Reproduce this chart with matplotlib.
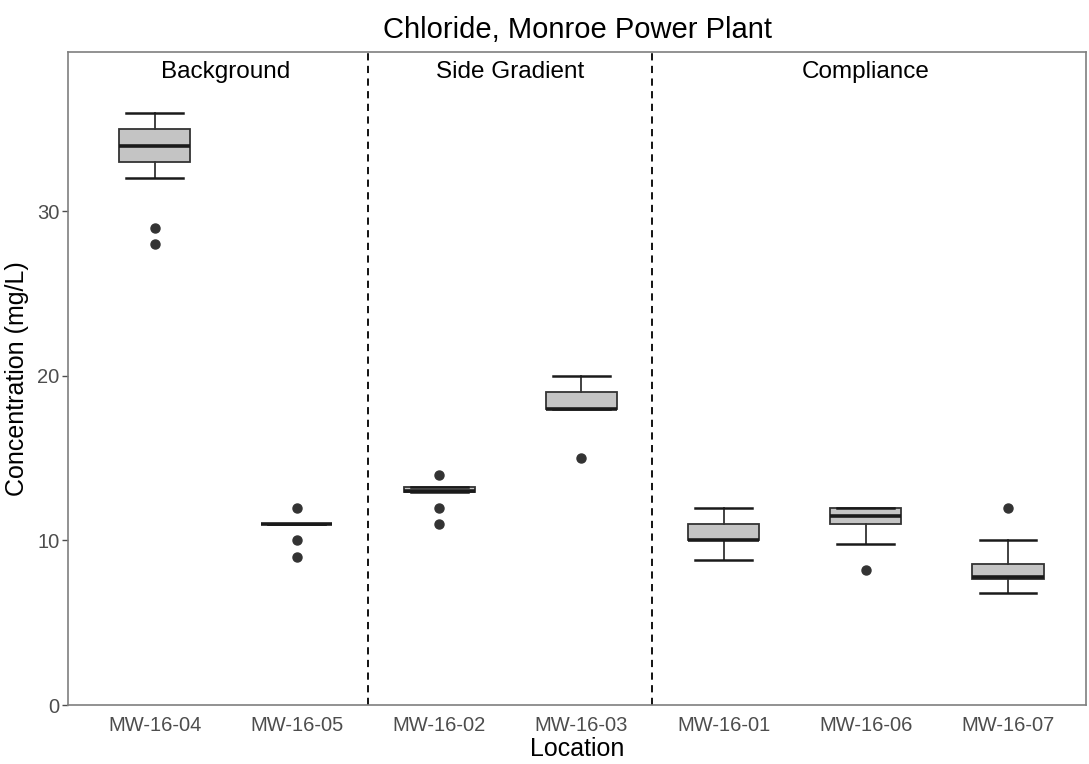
import matplotlib
matplotlib.use('Agg')
import matplotlib.pyplot as plt

plt.rcParams['font.family'] = ['Liberation Sans', 'DejaVu Sans']

# locations and box statistics (mg/L)
locations = ['MW-16-04', 'MW-16-05', 'MW-16-02', 'MW-16-03', 'MW-16-01', 'MW-16-06', 'MW-16-07']
whislo = [32.0, 11.0, 12.95, 18.0, 8.8, 9.8, 6.8]
q1 = [33.0, 11.0, 12.95, 18.0, 10.0, 11.0, 7.65]
med = [34.0, 11.0, 13.0, 18.0, 10.0, 11.5, 7.8]
q3 = [35.0, 11.0, 13.25, 19.0, 11.0, 12.0, 8.6]
whishi = [36.0, 11.0, 13.25, 20.0, 12.0, 12.0, 10.0]
fliers = [[29, 28], [12, 10, 9], [14, 12, 11], [15], [], [8.2], [12]]

groups = ['Background', 'Side Gradient', 'Compliance']
group_centers = [1.5, 3.5, 6.0]
dividers = [2.5, 4.5]

stats = []
for i, loc in enumerate(locations):
    stats.append({'label': loc, 'whislo': whislo[i], 'q1': q1[i], 'med': med[i],
                  'q3': q3[i], 'whishi': whishi[i], 'fliers': fliers[i]})

fig = plt.figure(figsize=(10.89, 7.64), dpi=100)
ax = fig.add_axes([0.0624, 0.0772, 0.935, 0.855])

ax.bxp(stats, positions=range(1, 8), widths=0.5, patch_artist=True,
       boxprops=dict(facecolor='#c4c4c4', edgecolor='#333333', linewidth=1.3),
       medianprops=dict(color='#1a1a1a', linewidth=2.6),
       whiskerprops=dict(color='#333333', linewidth=1.3),
       capprops=dict(color='#1a1a1a', linewidth=1.8),
       capwidths=0.4,
       flierprops=dict(marker='o', markerfacecolor='#333333', markeredgecolor='#333333', markersize=6.5))

for d in dividers:
    ax.axvline(d, color='black', linestyle=(0, (4, 3)), linewidth=1.3)

for g, c in zip(groups, group_centers):
    ax.text(c, 38.5, g, ha='center', va='center', fontsize=17.5, color='black')

ax.set_xlim(0.39, 7.55)
ax.set_ylim(0, 39.7)
ax.set_yticks([0, 10, 20, 30])
ax.set_xticks(range(1, 8))
ax.set_xticklabels(locations)
ax.tick_params(axis='both', colors='#4d4d4d', labelsize=14.5, length=4, width=1)
ax.tick_params(axis='y', pad=2)
ax.tick_params(axis='x', length=0, pad=8)
for s in ax.spines.values():
    s.set_color('#7f7f7f')
    s.set_linewidth(1.2)

ax.set_title('Chloride, Monroe Power Plant', fontsize=21, pad=10)
ax.set_xlabel('Location', fontsize=18, labelpad=1)
ax.set_ylabel('Concentration (mg/L)', fontsize=18, labelpad=6)

fig.savefig('out.png', dpi=100)
